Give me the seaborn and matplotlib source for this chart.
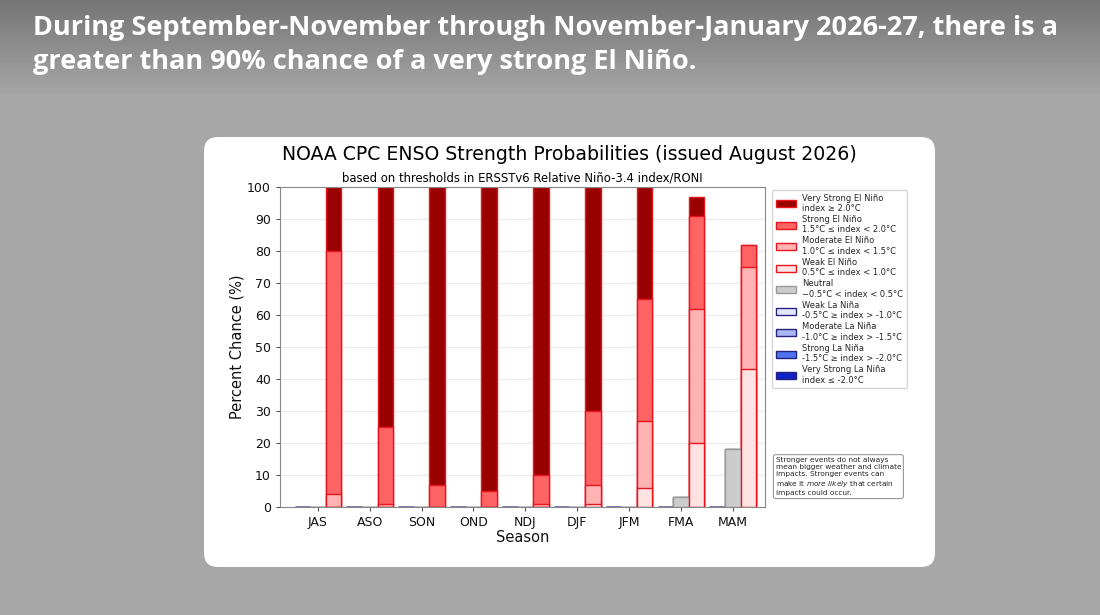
import numpy as np
import pandas as pd
import matplotlib
matplotlib.use('Agg')
import matplotlib.pyplot as plt
import seaborn as sns
from matplotlib.patches import Patch, FancyBboxPatch

seasons = ['JAS', 'ASO', 'SON', 'OND', 'NDJ', 'DJF', 'JFM', 'FMA', 'MAM']

# percent chance per strength category
vs_nino = [20, 75, 93, 95, 90, 70, 35, 6, 0]
strong_nino = [76, 24, 7, 5, 9, 23, 38, 29, 7]
moderate_nino = [4, 1, 0, 0, 1, 6, 21, 42, 32]
weak_nino = [0, 0, 0, 0, 0, 1, 6, 20, 43]
neutral = [0, 0, 0, 0, 0, 0, 0, 3, 18]
weak_nina = [0, 0, 0, 0, 0, 0, 0, 0, 0]
moderate_nina = [0, 0, 0, 0, 0, 0, 0, 0, 0]
strong_nina = [0, 0, 0, 0, 0, 0, 0, 0, 0]
vs_nina = [0, 0, 0, 0, 0, 0, 0, 0, 0]

legend_labels = [
    'Very Strong El Niño\nindex ≥ 2.0°C',
    'Strong El Niño\n1.5°C ≤ index < 2.0°C',
    'Moderate El Niño\n1.0°C ≤ index < 1.5°C',
    'Weak El Niño\n0.5°C ≤ index < 1.0°C',
    'Neutral\n\u22120.5°C < index < 0.5°C',
    'Weak La Niña\n-0.5°C ≥ index > -1.0°C',
    'Moderate La Niña\n-1.0°C ≥ index > -1.5°C',
    'Strong La Niña\n-1.5°C ≥ index > -2.0°C',
    'Very Strong La Niña\nindex ≤ -2.0°C',
]

nino_colors = ['#ffe3e3', '#ffb3b3', '#ff6464', '#990000']   # weak -> very strong
nina_colors = ['#e3e6ff', '#a8b6f5', '#4f74f0', '#0a22c8']
neutral_color = '#cccccc'
edge_cols = ['#24247e', '#999999', '#e8141e']
groups = ['La Niña', 'Neutral', 'El Niño']

sns.set_style('ticks')
plt.rcParams['font.family'] = ['DejaVu Sans']

fig = plt.figure(figsize=(11, 6.15), dpi=100)

# slide background
bg = fig.add_axes([0, 0, 1, 1])
bg.set_xlim(0, 1100)
bg.set_ylim(615, 0)
bg.axis('off')
rows = np.arange(615)
shade = np.where(rows < 95, 0.46 + (0.65 - 0.46) * rows / 95, 0.655)
bg.imshow(shade[:, None] * np.ones((1, 10)), cmap='gray', vmin=0, vmax=1,
          extent=(0, 1100, 615, 0), aspect='auto', zorder=0)
bg.add_patch(FancyBboxPatch((204, 137), 731, 430,
                            boxstyle='round,pad=0,rounding_size=14',
                            fc='white', ec='none', zorder=1))
bg.text(33, 15, 'During September-November through November-January 2026-27, there is a\n'
        'greater than 90% chance of a very strong El Niño.',
        color='white', fontsize=19.5, fontweight='bold', family=['Open Sans', 'DejaVu Sans'],
        va='top', ha='left', linespacing=1.4, zorder=2)
bg.text(569, 155, 'NOAA CPC ENSO Strength Probabilities (issued August 2026)',
        fontsize=13.6, ha='center', va='center', color='black', zorder=2)
bg.text(522, 178, 'based on thresholds in ERSSTv6 Relative Niño-3.4 index/RONI',
        fontsize=8.4, ha='center', va='center', color='black', zorder=2)

ax = fig.add_axes([280 / 1100, 1 - 507 / 615, 485 / 1100, 320 / 615])

nino_cum = np.cumsum([weak_nino, moderate_nino, strong_nino, vs_nino], axis=0)
nina_cum = np.cumsum([weak_nina, moderate_nina, strong_nina, vs_nina], axis=0)

# stacked bars by overlaying cumulative totals, tallest first
for k in [3, 2, 1, 0]:
    df = pd.DataFrame({
        'season': seasons * 3,
        'group': np.repeat(groups, len(seasons)),
        'value': np.concatenate([nina_cum[k], neutral, nino_cum[k]]),
    })
    sns.barplot(data=df, x='season', y='value', hue='group', hue_order=groups,
                palette={'La Niña': nina_colors[k], 'Neutral': neutral_color,
                         'El Niño': nino_colors[k]},
                width=0.9, dodge=True, saturation=1, errorbar=None,
                linewidth=1.0, legend=False, ax=ax)
    for cont, ec in zip(ax.containers[-3:], edge_cols):
        for p in cont:
            p.set_edgecolor(ec)

ax.set_xlim(-0.73, 8.62)
ax.set_ylim(0, 100)
ax.set_yticks(range(0, 101, 10))
ax.yaxis.grid(True, color='#ebebeb', linewidth=0.8)
ax.set_axisbelow(True)
ax.tick_params(labelsize=9, length=3, color='#555555', labelcolor='#111111')
ax.set_xlabel('Season', fontsize=10.5, labelpad=1, color='#111111')
ax.set_ylabel('Percent Chance (%)', fontsize=10.5, labelpad=2, color='#111111')
for s in ax.spines.values():
    s.set_color('#888888')

handles = []
for c in nino_colors[::-1]:
    handles.append(Patch(fc=c, ec=edge_cols[2]))
handles.append(Patch(fc=neutral_color, ec=edge_cols[1]))
for c in nina_colors:
    handles.append(Patch(fc=c, ec=edge_cols[0]))
ax.legend(handles, legend_labels, loc='upper left', bbox_to_anchor=(1.015, 0.99),
          fontsize=6.0, borderaxespad=0, labelspacing=0.25, handlelength=2.4,
          handleheight=0.9, frameon=True, edgecolor='#cccccc', fancybox=True)

ax.text(1.022, 0.095,
        'Stronger events do not always\nmean bigger weather and climate\n'
        'impacts. Stronger events can\nmake it $\\it{more\\ likely}$ that certain\n'
        'impacts could occur.',
        transform=ax.transAxes, fontsize=5.3, va='center', ha='left', linespacing=1.25,
        bbox=dict(boxstyle='round,pad=0.3', fc='white', ec='#999999', lw=0.8))

fig.savefig('out.png', dpi=100)
